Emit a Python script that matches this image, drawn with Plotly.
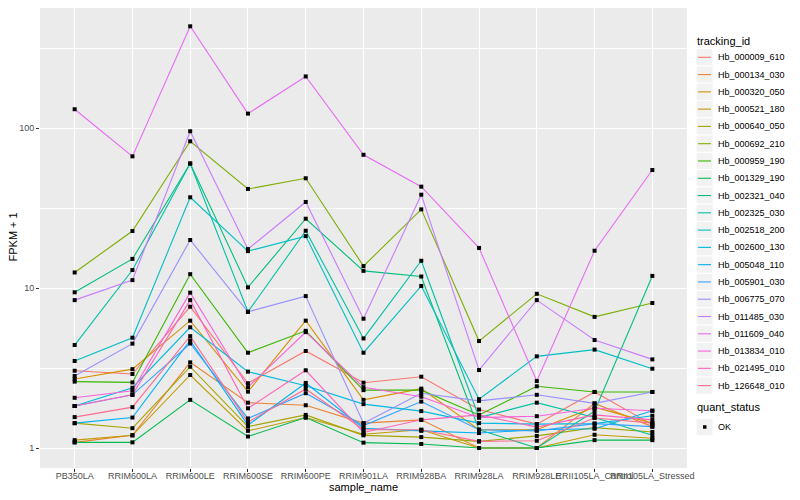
import plotly.graph_objects as go

samples = ["PB350LA", "RRIM600LA", "RRIM600LE", "RRIM600SE", "RRIM600PE", "RRIM901LA",
           "RRIM928BA", "RRIM928LA", "RRIM928LE", "RRII105LA_Control", "RRII105LA_Stressed"]

tracking_ids = ["Hb_000009_610", "Hb_000134_030", "Hb_000320_050", "Hb_000521_180", "Hb_000640_050",
                "Hb_000692_210", "Hb_000959_190", "Hb_001329_190", "Hb_002321_040", "Hb_002325_030",
                "Hb_002518_200", "Hb_002600_130", "Hb_005048_110", "Hb_005901_030", "Hb_006775_070",
                "Hb_011485_030", "Hb_011609_040", "Hb_013834_010", "Hb_021495_010", "Hb_126648_010"]

colors = ["#F8766D", "#EA8331", "#D89000", "#C09B00", "#A3A500", "#7CAE00", "#39B600", "#00BB4E",
          "#00BF7D", "#00C1A3", "#00BFC4", "#00BAE0", "#00B0F6", "#35A2FF", "#9590FF", "#C77CFF",
          "#E76BF3", "#FA62DB", "#FF62BC", "#FF6C91"]

# FPKM + 1 values, one list per tracking_id (order of samples)
Hb_000009_610 = [3.04, 2.90, 7.64, 2.54, 4.04, 2.56, 2.79, 1.74, 1.41, 2.24, 1.40]
Hb_000134_030 = [1.085, 1.20, 3.43, 1.92, 1.85, 1.43, 1.50, 1.00, 1.00, 1.90, 1.36]
Hb_000320_050 = [2.70, 3.11, 6.25, 2.25, 6.25, 2.00, 2.35, 1.30, 1.30, 1.80, 1.43]
Hb_000521_180 = [1.12, 1.20, 2.86, 1.28, 1.55, 1.22, 1.30, 1.00, 1.00, 1.21, 1.15]
Hb_000640_050 = [1.43, 1.33, 3.22, 1.36, 1.61, 1.20, 1.17, 1.10, 1.19, 1.34, 1.26]
Hb_000692_210 = [12.5, 22.7, 82.6, 41.6, 48.5, 13.7, 31.0, 4.66, 9.2, 6.6, 8.06]
Hb_000959_190 = [2.60, 2.57, 12.2, 3.94, 5.40, 2.30, 2.30, 1.61, 2.43, 2.24, 2.24]
Hb_001329_190 = [1.085, 1.085, 2.00, 1.18, 1.55, 1.08, 1.06, 1.00, 1.00, 1.12, 1.12]
Hb_002321_040 = [9.4, 15.2, 60.0, 10.1, 27.1, 12.8, 11.8, 1.30, 1.00, 1.70, 11.9]
Hb_002325_030 = [4.4, 12.95, 60.0, 7.1, 22.8, 4.84, 14.8, 1.55, 1.92, 1.55, 1.20]
Hb_002518_200 = [3.5, 4.89, 36.9, 17.0, 21.1, 3.94, 10.3, 2.02, 3.74, 4.12, 3.13]
Hb_002600_130 = [1.83, 2.38, 5.68, 3.00, 2.45, 1.88, 1.70, 1.43, 1.41, 1.42, 1.59]
Hb_005048_110 = [1.43, 1.55, 4.70, 1.39, 2.55, 1.33, 1.28, 1.24, 1.30, 1.32, 1.71]
Hb_005901_030 = [1.83, 2.15, 4.50, 1.53, 2.20, 1.38, 1.95, 1.30, 1.28, 1.42, 1.36]
Hb_006775_070 = [2.82, 4.49, 19.95, 7.1, 8.9, 1.43, 2.20, 1.97, 2.15, 1.90, 2.24]
Hb_011485_030 = [8.4, 11.2, 95.4, 17.5, 34.5, 6.43, 38.3, 3.07, 8.4, 4.73, 3.58]
Hb_011609_040 = [131.0, 66.5, 432.0, 123.0, 210.0, 68.0, 43.0, 17.8, 2.62, 17.1, 54.6]
Hb_013834_010 = [2.06, 2.28, 9.35, 2.40, 5.30, 2.40, 2.09, 1.55, 1.58, 1.77, 1.71]
Hb_021495_010 = [1.83, 2.15, 8.4, 1.77, 3.06, 1.25, 1.50, 1.61, 1.35, 1.61, 1.50]
Hb_126648_010 = [1.56, 1.80, 5.0, 1.45, 2.34, 1.30, 1.30, 1.10, 1.11, 1.54, 1.43]

series = [Hb_000009_610, Hb_000134_030, Hb_000320_050, Hb_000521_180, Hb_000640_050,
          Hb_000692_210, Hb_000959_190, Hb_001329_190, Hb_002321_040, Hb_002325_030,
          Hb_002518_200, Hb_002600_130, Hb_005048_110, Hb_005901_030, Hb_006775_070,
          Hb_011485_030, Hb_011609_040, Hb_013834_010, Hb_021495_010, Hb_126648_010]

quant_levels = ["OK"]

# The page places the figure 8px from the top-left corner, so the figure is 8px smaller
OFF = 8
W, H = 800 - OFF, 500 - OFF
# panel edges in page pixels
L, R, T, B = 40, 687, 8, 468


def px(x):
    return (x - L) / (R - L)


def py(y):
    return (B - y) / (B - T)


fig = go.Figure()
for name, col, vals in zip(tracking_ids, colors, series):
    fig.add_trace(go.Scatter(x=samples, y=vals, mode="lines", name=name,
                             line=dict(color=col, width=1.1), showlegend=False))

all_x, all_y = [], []
for vals in series:
    all_x += samples
    all_y += vals
fig.add_trace(go.Scatter(x=all_x, y=all_y, mode="markers", name="OK",
                         marker=dict(color="black", size=4, symbol="square"), showlegend=False))

font_family = "Liberation Sans, Arial, sans-serif"

fig.update_layout(
    width=W, height=H,
    margin=dict(l=L - OFF, r=800 - R, t=T - OFF, b=500 - B),
    plot_bgcolor="#EBEBEB", paper_bgcolor="white",
    font=dict(family=font_family),
    showlegend=False,
)
fig.update_xaxes(type="category", categoryorder="array", categoryarray=samples,
                 range=[-0.6, len(samples) - 0.4], showgrid=True, gridcolor="white", gridwidth=1.1,
                 ticks="outside", ticklen=3, tickwidth=1, tickcolor="#333333", tickangle=0,
                 ticklabelstandoff=-4,
                 tickfont=dict(size=9, color="#4D4D4D"), zeroline=False, showline=False,
                 automargin=False)
fig.update_yaxes(type="log", range=[(448 - B) / 160, (448 - T) / 160], tickvals=[1, 10, 100],
                 ticktext=["1", "10", "100"],
                 showgrid=True, gridcolor="white", gridwidth=1.1,
                 minor=dict(tickmode="array", tickvals=[10 ** 0.5, 10 ** 1.5, 10 ** 2.5],
                            showgrid=True, gridcolor="white", gridwidth=0.55, ticks=""),
                 ticks="outside", ticklen=3, tickwidth=1, tickcolor="#333333",
                 tickfont=dict(size=9, color="#4D4D4D"), zeroline=False, showline=False,
                 automargin=False)

annotations = [
    dict(text="sample_name", x=px((L + R) / 2), y=py(487), xref="paper", yref="paper",
         showarrow=False, font=dict(size=11, color="black"), xanchor="center", yanchor="middle"),
    dict(text="FPKM + 1", x=px(13), y=py((5 + B) / 2), xref="paper", yref="paper", textangle=-90,
         showarrow=False, font=dict(size=11, color="black"), xanchor="center", yanchor="middle"),
    dict(text="tracking_id", x=px(695), y=py(41), xref="paper", yref="paper", showarrow=False,
         font=dict(size=11, color="black"), xanchor="left", yanchor="middle"),
]
shapes = []
key_h = 17.28
y0 = 57.3
for i, (name, col) in enumerate(zip(tracking_ids, colors)):
    yc = y0 + key_h * i
    shapes.append(dict(type="rect", xref="paper", yref="paper", x0=px(696), x1=px(713),
                       y0=py(yc - key_h / 2), y1=py(yc + key_h / 2),
                       fillcolor="#F2F2F2", line=dict(color="white", width=1), layer="above"))
    shapes.append(dict(type="line", xref="paper", yref="paper", x0=px(698), x1=px(711),
                       y0=py(yc), y1=py(yc), line=dict(color=col, width=1.1), layer="above"))
    annotations.append(dict(text=name, x=px(716), y=py(yc), xref="paper", yref="paper",
                            showarrow=False, font=dict(size=9, color="black"),
                            xanchor="left", yanchor="middle"))

qy_title = 407
annotations.append(dict(text="quant_status", x=px(695), y=py(qy_title), xref="paper", yref="paper",
                        showarrow=False, font=dict(size=11, color="black"),
                        xanchor="left", yanchor="middle"))
for j, lev in enumerate(quant_levels):
    yc = 427 + key_h * j
    shapes.append(dict(type="rect", xref="paper", yref="paper", x0=px(696), x1=px(713),
                       y0=py(yc - key_h / 2), y1=py(yc + key_h / 2),
                       fillcolor="#F2F2F2", line=dict(color="white", width=1), layer="above"))
    shapes.append(dict(type="rect", xref="paper", yref="paper", x0=px(703), x1=px(706.5),
                       y0=py(yc - 1.75), y1=py(yc + 1.75),
                       fillcolor="black", line=dict(color="black", width=0), layer="above"))
    annotations.append(dict(text=lev, x=px(716), y=py(yc), xref="paper", yref="paper",
                            showarrow=False, font=dict(size=9, color="black"),
                            xanchor="left", yanchor="middle"))

fig.update_layout(annotations=annotations, shapes=shapes)
fig.write_html("out.html")
